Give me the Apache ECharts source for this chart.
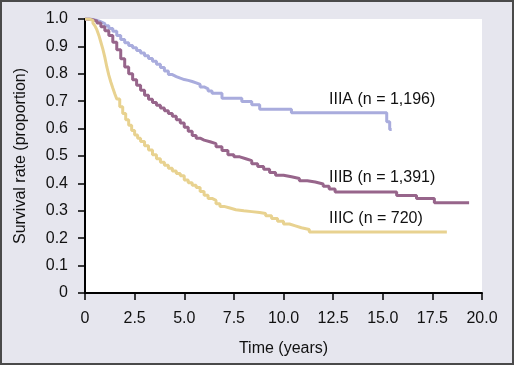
<!DOCTYPE html>
<html>
<head>
<meta charset="utf-8">
<script src="https://cdn.jsdelivr.net/npm/echarts@6/dist/echarts.min.js"></script>
<style>
html,body{margin:0;padding:0;}
#c{width:514px;height:365px;}
</style>
</head>
<body>
<div id="c"></div>
<script>
const xTickLabels = ['0','2.5','5.0','7.5','10.0','12.5','15.0','17.5','20.0'];
const yTickLabels = ['0','0.1','0.2','0.3','0.4','0.5','0.6','0.7','0.8','0.9','1.0'];
const seriesNames = ['IIIA (n = 1,196)','IIIB (n = 1,391)','IIIC (n = 720)'];

const stageIIIA = [[0,1],[0.2,0.998],[0.4,0.995],[0.6,0.99],[0.8,0.983],[1.0,0.975],[1.2,0.965],[1.4,0.955],[1.6,0.94],[1.8,0.925],[2.0,0.913],[2.2,0.903],[2.4,0.895],[2.6,0.885],[2.8,0.876],[3.0,0.866],[3.2,0.856],[3.4,0.846],[3.6,0.835],[3.8,0.823],[4.0,0.81],[4.2,0.797],[4.4,0.79],[4.6,0.784],[4.8,0.779],[5.0,0.776],[5.2,0.772],[5.4,0.767],[5.6,0.761],[5.8,0.752],[6.0,0.745],[6.2,0.737],[6.4,0.729],[6.9,0.711],[7.9,0.699],[8.4,0.687],[8.8,0.671],[10.4,0.658],[15.2,0.625],[15.35,0.597],[15.45,0.597]];
const stageIIIB = [[0,1],[0.2,0.997],[0.4,0.993],[0.6,0.985],[0.8,0.972],[1.0,0.957],[1.2,0.94],[1.4,0.915],[1.6,0.888],[1.8,0.855],[2.0,0.825],[2.2,0.8],[2.4,0.778],[2.6,0.758],[2.8,0.74],[3.0,0.722],[3.2,0.707],[3.4,0.695],[3.6,0.685],[3.8,0.675],[4.0,0.665],[4.2,0.655],[4.4,0.645],[4.6,0.632],[4.8,0.62],[5.0,0.605],[5.2,0.59],[5.4,0.575],[5.6,0.565],[5.8,0.558],[6.0,0.552],[6.3,0.545],[6.6,0.534],[6.9,0.52],[7.2,0.505],[7.5,0.497],[7.8,0.49],[8.1,0.483],[8.4,0.472],[8.7,0.462],[9.0,0.452],[9.3,0.44],[9.6,0.43],[10.0,0.424],[10.4,0.418],[10.8,0.41],[11.2,0.405],[11.6,0.398],[12.0,0.39],[12.3,0.38],[12.6,0.369],[15.7,0.356],[16.7,0.345],[17.6,0.329],[19.35,0.329]];
const stageIIIC = [[0,1],[0.2,0.995],[0.4,0.985],[0.5,0.975],[0.6,0.96],[0.7,0.94],[0.8,0.915],[0.9,0.89],[1.0,0.86],[1.1,0.825],[1.2,0.795],[1.3,0.77],[1.4,0.748],[1.5,0.727],[1.6,0.708],[1.75,0.68],[1.9,0.655],[2.05,0.632],[2.2,0.612],[2.35,0.593],[2.5,0.577],[2.65,0.565],[2.8,0.553],[3.0,0.537],[3.2,0.522],[3.4,0.505],[3.6,0.49],[3.8,0.477],[4.0,0.466],[4.2,0.455],[4.4,0.445],[4.6,0.436],[4.8,0.428],[5.0,0.412],[5.2,0.402],[5.4,0.393],[5.6,0.385],[5.8,0.37],[6.0,0.357],[6.2,0.345],[6.4,0.338],[6.6,0.326],[6.8,0.316],[7.0,0.31],[7.3,0.304],[7.6,0.3],[8.0,0.297],[8.4,0.294],[8.8,0.29],[9.1,0.282],[9.4,0.272],[9.7,0.262],[10.0,0.252],[10.3,0.245],[10.6,0.238],[10.9,0.232],[11.3,0.223],[18.23,0.223]];

const colors = ['#a9acdd','#97658b','#e8d290'];
const FONT = 'Liberation Sans, Arial, Helvetica, sans-serif';

const chart = echarts.init(document.getElementById('c'), null, {renderer:'canvas'});
const mkSeries = (name, data, color) => ({
  name, type:'line', step:'end', data, symbol:'none', animation:false,
  lineStyle:{color, width:3}, z:3
});
chart.setOption({
  animation:false,
  backgroundColor:'#e6e6ee',
  textStyle:{fontFamily:FONT},
  grid:{left:85, right:32, top:19, bottom:72, show:true, backgroundColor:'#ffffff', borderWidth:0},
  xAxis:{
    type:'value', min:0, max:20, interval:2.5,
    name:'Time (years)', nameLocation:'middle', nameGap:48,
    nameTextStyle:{fontSize:16, color:'#111', fontFamily:FONT},
    axisLine:{show:true, onZero:false, lineStyle:{color:'#000', width:2}},
    axisTick:{show:true, length:7, lineStyle:{color:'#000', width:1.5}},
    axisLabel:{fontSize:16, color:'#111', margin:18, fontFamily:FONT,
      formatter:(v)=>xTickLabels[Math.round(v/2.5)]},
    splitLine:{show:false}
  },
  yAxis:{
    type:'value', min:0, max:1, interval:0.1,
    name:'Survival rate (proportion)', nameLocation:'middle', nameGap:56, nameRotate:90,
    nameTextStyle:{fontSize:16, color:'#111', fontFamily:FONT},
    axisLine:{show:true, lineStyle:{color:'#000', width:2}},
    axisTick:{show:true, length:7, lineStyle:{color:'#000', width:1.5}},
    axisLabel:{fontSize:16, color:'#111', margin:17, fontFamily:FONT,
      formatter:(v)=>yTickLabels[Math.round(v*10)]},
    splitLine:{show:false}
  },
  series:[
    mkSeries(seriesNames[0], stageIIIA, colors[0]),
    mkSeries(seriesNames[1], stageIIIB, colors[1]),
    mkSeries(seriesNames[2], stageIIIC, colors[2])
  ],
  graphic:[
    {type:'rect', shape:{x:1, y:1, width:512, height:363}, style:{fill:'none', stroke:'#4a4a4a', lineWidth:2}, z:10, silent:true},
    {type:'text', left:329, top:92, style:{text:seriesNames[0], fill:'#111', font:'16px '+FONT}, z:10},
    {type:'text', left:329, top:170, style:{text:seriesNames[1], fill:'#111', font:'16px '+FONT}, z:10},
    {type:'text', left:329, top:211, style:{text:seriesNames[2], fill:'#111', font:'16px '+FONT}, z:10}
  ]
});
</script>
</body>
</html>
